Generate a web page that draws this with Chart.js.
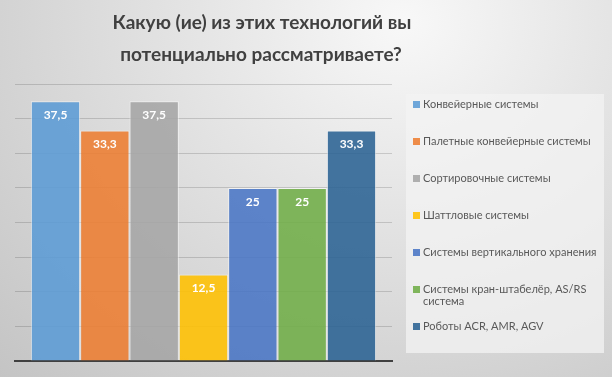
<!DOCTYPE html>
<html>
<head>
<meta charset="utf-8">
<script src="https://cdn.jsdelivr.net/npm/chart.js@4.4.1/dist/chart.umd.min.js"></script>
<style>
    html, body { margin: 0; padding: 0; }
    body {
        width: 612px;
        height: 377px;
        overflow: hidden;
        background: radial-gradient(ellipse farthest-corner at 66% 6%, #f8f8f8 0%, #e8e8e8 30%, #c4c4c4 100%);
    }
    canvas { display: block; }
</style>
</head>
<body>
<canvas id="chart" width="612" height="377"></canvas>
<script>
// Data
const titleLines = ["Какую (ие) из этих технологий вы", "потенциально рассматриваете?"];
const technologies = [
    "Конвейерные системы",
    "Палетные конвейерные системы",
    "Сортировочные системы",
    "Шаттловые системы",
    "Системы вертикального хранения",
    "Системы кран-штабелёр, AS/RS система",
    "Роботы ACR, AMR, AGV"
];
const shares = [37.5, 33.3, 37.5, 12.5, 25, 25, 33.3];
const colors = [
    "rgba(91,155,213,0.88)",
    "rgba(237,125,49,0.88)",
    "rgba(165,165,165,0.88)",
    "rgba(255,192,0,0.88)",
    "rgba(68,114,196,0.85)",
    "rgba(112,173,71,0.88)",
    "rgba(37,94,145,0.85)"
];

// Plugins
const titlePlugin = {
    id: "titleText",
    afterDraw(chart) {
        const ctx = chart.ctx;
        ctx.save();
        ctx.fillStyle = "#404040";
        ctx.font = "bold 19px Lato";
        ctx.textAlign = "center";
        ctx.textBaseline = "middle";
        ctx.fillText(titleLines[0], 262, 23);
        ctx.fillText(titleLines[1], 261, 55);
        ctx.restore();
    }
};

const valueLabels = {
    id: "valueLabels",
    afterDatasetsDraw(chart) {
        const ctx = chart.ctx;
        ctx.save();
        ctx.fillStyle = "#ffffff";
        ctx.font = "bold 12px Lato";
        ctx.textAlign = "center";
        ctx.textBaseline = "middle";
        chart.data.datasets.forEach((ds, i) => {
            const bar = chart.getDatasetMeta(i).data[0];
            ctx.fillText(ds.data[0].toString().replace(".", ","), bar.x, bar.y + 14);
        });
        ctx.restore();
    }
};

const sideLegend = {
    id: "sideLegend",
    afterDraw(chart) {
        const ctx = chart.ctx;
        ctx.save();
        ctx.fillStyle = "rgba(243,243,243,0.75)";
        ctx.fillRect(406, 94, 198, 259);
        ctx.font = "11px Lato";
        ctx.textBaseline = "middle";
        ctx.textAlign = "left";
        let y = 104.5;
        chart.data.datasets.forEach((ds) => {
            ctx.fillStyle = ds.backgroundColor;
            ctx.fillRect(413, y - 3.5, 7, 7);
            ctx.fillStyle = "#595959";
            // wrap words
            let words = ds.label.split(" ");
            let line = "";
            let ly = y;
            words.forEach(w => {
                let test = line ? line + " " + w : w;
                if (ctx.measureText(test).width > 176 && line) {
                    ctx.fillText(line, 423, ly);
                    line = w;
                    ly += 12;
                } else {
                    line = test;
                }
            });
            ctx.fillText(line, 423, ly);
            y += 37;
        });
        ctx.restore();
    }
};

new Chart(document.getElementById("chart"), {
    type: "bar",
    data: {
        labels: [""],
        datasets: technologies.map((t, i) => ({
            label: t,
            data: [shares[i]],
            backgroundColor: colors[i],
            borderColor: "rgba(255,255,255,0.55)",
            borderWidth: 1
        }))
    },
    options: {
        responsive: false,
        animation: false,
        devicePixelRatio: 1,
        layout: { padding: { left: 15, right: 220, top: 84, bottom: 16 } },
        datasets: { bar: { categoryPercentage: 0.916, barPercentage: 1 } },
        scales: {
            x: {
                ticks: { display: false },
                grid: { display: false, drawTicks: false },
                border: { color: "#404040", width: 2 }
            },
            y: {
                min: 0,
                max: 40,
                ticks: { display: false, stepSize: 5 },
                grid: { color: "rgba(0,0,0,0.15)", drawTicks: false },
                border: { display: false }
            }
        },
        plugins: {
            legend: { display: false },
            tooltip: { enabled: false }
        }
    },
    plugins: [titlePlugin, valueLabels, sideLegend]
});
</script>
</body>
</html>
